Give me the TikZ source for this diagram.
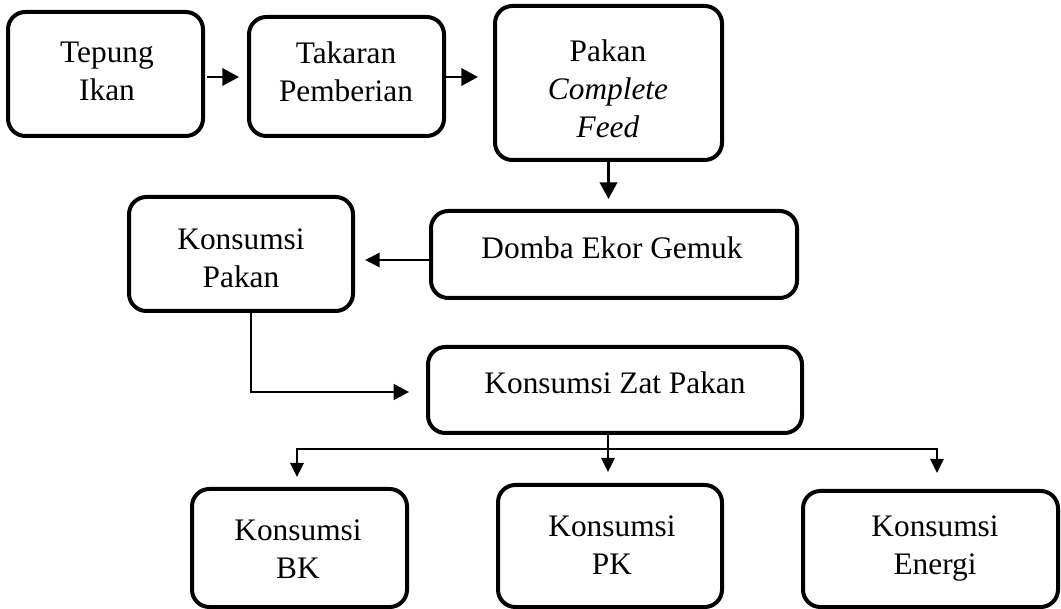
\documentclass[tikz,border=0pt]{standalone}
\usepackage{fontspec}
\setmainfont{Liberation Serif}
\usetikzlibrary{arrows.meta}
\tikzset{
  box/.style={draw=black, line width=3pt, rounded corners=13pt, inner sep=0pt, outer sep=0pt, fill=white},
  txt/.style={align=center, inner sep=0pt, font=\fontsize{23.5}{28.5}\selectfont},
  arr/.style={line width=2pt, -{Triangle[length=12.5pt,width=13pt]}},
  arrthin/.style={line width=1pt, -{Triangle[length=11.5pt,width=12pt]}},
  arrd/.style={line width=2pt, -{Triangle[length=11pt,width=10.5pt]}},
  arrmid/.style={line width=1.5pt, -{Triangle[length=10.5pt,width=10pt]}},
  ln/.style={line width=1.5pt}
}
\begin{document}
\begin{tikzpicture}[x=0.75pt,y=-0.75pt]
\useasboundingbox (0,0) rectangle (1061,609);
% boxes
\node[box, minimum width={195*0.75pt}, minimum height={124*0.75pt}] (tep) at (105.5,74) {};
\node[box, minimum width={195*0.75pt}, minimum height={119*0.75pt}] (tak) at (346.5,76.5) {};
\node[box, minimum width={227*0.75pt}, minimum height={154*0.75pt}] (pak) at (608.5,83) {};
\node[box, minimum width={366*0.75pt}, minimum height={87*0.75pt}] (dom) at (614,254.5) {};
\node[box, minimum width={224*0.75pt}, minimum height={114*0.75pt}] (kp) at (241,254) {};
\node[box, minimum width={374*0.75pt}, minimum height={86*0.75pt}] (kzp) at (615,390) {};
\node[box, minimum width={215*0.75pt}, minimum height={118*0.75pt}] (bk) at (299.5,548) {};
\node[box, minimum width={224*0.75pt}, minimum height={122*0.75pt}] (pk) at (610,546) {};
\node[box, minimum width={255*0.75pt}, minimum height={116*0.75pt}] (en) at (930.5,549) {};
% texts
\node[txt] (ttep) at (107,71.5) {Tepung\\Ikan};
\node[txt] (ttak) at (346,71.5) {Takaran\\Pemberian};
\node[txt] (tpak) at (608,88.5) {Pakan\\\textit{Complete}\\\textit{Feed}};
\node[txt] (tdom) at (612,248) {Domba Ekor Gemuk};
\node[txt] (tkp) at (241,258.5) {Konsumsi\\Pakan};
\node[txt] (tkzp) at (615,383) {Konsumsi Zat Pakan};
\node[txt] (tbk) at (298,549) {Konsumsi\\BK};
\node[txt] (tpk) at (612,545) {Konsumsi\\PK};
\node[txt] (ten) at (935,549) {Konsumsi\\Energi};
% connectors
\draw[arr] ([shift={(4,3)}]tep.east) -- ([shift={(-10,0.5)}]tak.west);
\draw[arr] ([shift={(2,0.5)}]tak.east) -- ([shift={(-17,-6)}]pak.west);
\draw[arr] (pak.south) -- ++(0,39);
\draw[arrd] ([shift={(0,5.5)}]dom.west) -- ([shift={(12,6)}]kp.east);
\coordinate (kpd) at ([shift={(10,0)}]kp.south);
\draw[arrthin] (kpd) |- ([shift={(-19,2)}]kzp.west);
\coordinate (kzd) at ([shift={(-7,0)}]kzp.south);
\coordinate (j) at ([shift={(0,16)}]kzd);
\draw[ln] (kzd) -- (j);
\draw[arrmid] (j) -- ([shift={(-2,-13)}]pk.north);
\draw[arrmid] (j) -| ([shift={(-2.5,-12)}]bk.north);
\draw[arrmid] (j) -| ([shift={(6.5,-18)}]en.north);
\end{tikzpicture}
\end{document}
